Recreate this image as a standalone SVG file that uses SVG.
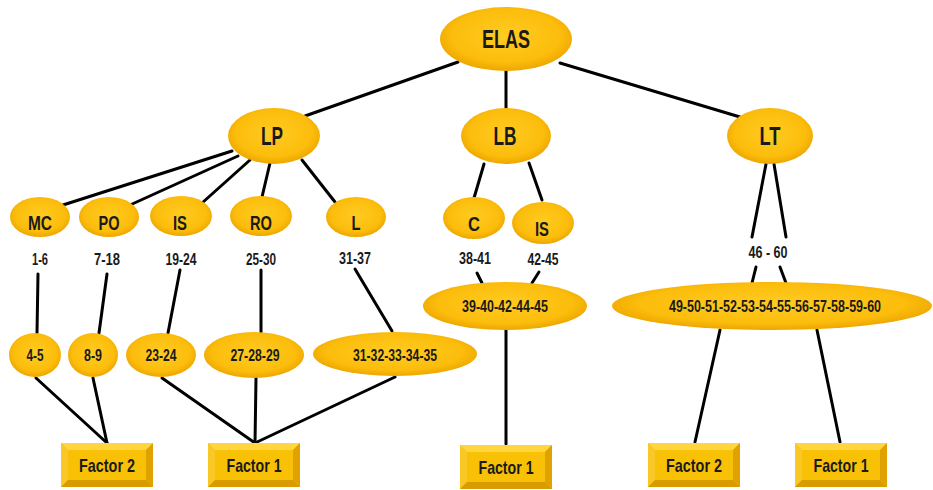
<svg xmlns="http://www.w3.org/2000/svg" width="933" height="490" viewBox="0 0 933 490">
<style>
.n{fill:url(#g);}
.t{font-family:"Liberation Sans",Arial,sans-serif;font-weight:bold;fill:#1a1a1a;text-anchor:middle;}
.big{font-size:25px;}
.mid{font-size:20px;}
.sm{font-size:16px;}
.f{font-size:19px;}
.c line{stroke:#000;stroke-width:3;stroke-linecap:round;}
</style>
<defs>
<radialGradient id="g" cx="50%" cy="45%" r="55%">
<stop offset="0" stop-color="#FFCB22"/>
<stop offset="0.75" stop-color="#FCBD0C"/>
<stop offset="1" stop-color="#EDA600"/>
</radialGradient>
<symbol id="btn" viewBox="0 0 92 44" width="92" height="44">
<rect x="0" y="0" width="92" height="44" fill="#F6C000"/>
<polygon points="0,0 92,0 85,7 7,7" fill="#FFD640"/>
<polygon points="0,0 7,7 7,37 0,44" fill="#F9C826"/>
<polygon points="92,0 92,44 85,37 85,7" fill="#DFA200"/>
<polygon points="0,44 92,44 85,37 7,37" fill="#D89B00"/>
<rect x="7" y="7" width="78" height="30" fill="#F8C106"/>
</symbol>
</defs>
<rect width="933" height="490" fill="#fff"/>
<g class="c" id="connectors">
<line x1="458" y1="62" x2="305" y2="116"/>
<line x1="506" y1="71" x2="506" y2="108"/>
<line x1="560" y1="63" x2="740" y2="117"/>
<line x1="232" y1="151" x2="63" y2="205"/>
<line x1="238" y1="156" x2="130" y2="205"/>
<line x1="250" y1="160" x2="202" y2="203"/>
<line x1="270" y1="163" x2="262" y2="197"/>
<line x1="302" y1="160" x2="335" y2="202"/>
<line x1="484" y1="164" x2="474" y2="198"/>
<line x1="529" y1="163" x2="542" y2="200"/>
<line x1="766" y1="164" x2="752" y2="237"/>
<line x1="774" y1="164" x2="786" y2="237"/>
<line x1="756" y1="267" x2="752" y2="283"/>
<line x1="780" y1="267" x2="786" y2="283"/>
<line x1="477" y1="273" x2="482" y2="283"/>
<line x1="539" y1="272" x2="532" y2="283"/>
<line x1="38" y1="274" x2="37" y2="333"/>
<line x1="107" y1="274" x2="99" y2="333"/>
<line x1="180" y1="270" x2="168" y2="333"/>
<line x1="261" y1="270" x2="261" y2="332"/>
<line x1="355" y1="269" x2="392" y2="331"/>
<line x1="36" y1="378" x2="107" y2="443"/>
<line x1="93" y1="378" x2="107" y2="443"/>
<line x1="162" y1="378" x2="255" y2="443"/>
<line x1="256" y1="378" x2="255" y2="443"/>
<line x1="395" y1="377" x2="255" y2="443"/>
<line x1="506" y1="330" x2="506" y2="444"/>
<line x1="720" y1="330" x2="695" y2="442"/>
<line x1="817" y1="330" x2="840" y2="442"/>
</g>
<g id="ELAS"><ellipse class="n" cx="506" cy="39" rx="66" ry="32"/><text class="t big" x="506" y="48" textLength="48" lengthAdjust="spacingAndGlyphs">ELAS</text></g>
<g id="LP"><ellipse class="n" cx="274" cy="136" rx="46" ry="28"/><text class="t big" x="272" y="145" textLength="22" lengthAdjust="spacingAndGlyphs">LP</text></g>
<g id="LB"><ellipse class="n" cx="506" cy="136" rx="45" ry="28"/><text class="t big" x="505" y="145" textLength="23" lengthAdjust="spacingAndGlyphs">LB</text></g>
<g id="LT"><ellipse class="n" cx="770" cy="136" rx="43" ry="28"/><text class="t big" x="770" y="145" textLength="21" lengthAdjust="spacingAndGlyphs">LT</text></g>
<g id="MC"><ellipse class="n" cx="40" cy="217" rx="30" ry="20"/><text class="t mid" x="40" y="230" textLength="24" lengthAdjust="spacingAndGlyphs">MC</text><text class="t sm" x="40" y="265" textLength="16" lengthAdjust="spacingAndGlyphs">1-6</text></g>
<g id="PO"><ellipse class="n" cx="109" cy="217" rx="30" ry="20"/><text class="t mid" x="109" y="230" textLength="21" lengthAdjust="spacingAndGlyphs">PO</text><text class="t sm" x="107" y="265" textLength="26" lengthAdjust="spacingAndGlyphs">7-18</text></g>
<g id="IS1"><ellipse class="n" cx="181" cy="216" rx="31" ry="20"/><text class="t mid" x="180" y="230" textLength="14" lengthAdjust="spacingAndGlyphs">IS</text><text class="t sm" x="181" y="265" textLength="31" lengthAdjust="spacingAndGlyphs">19-24</text></g>
<g id="RO"><ellipse class="n" cx="261" cy="216" rx="31" ry="20"/><text class="t mid" x="261" y="230" textLength="22" lengthAdjust="spacingAndGlyphs">RO</text><text class="t sm" x="261" y="265" textLength="30" lengthAdjust="spacingAndGlyphs">25-30</text></g>
<g id="L"><ellipse class="n" cx="356" cy="217" rx="30" ry="20"/><text class="t mid" x="356" y="230" textLength="9" lengthAdjust="spacingAndGlyphs">L</text><text class="t sm" x="355" y="264" textLength="32" lengthAdjust="spacingAndGlyphs">31-37</text></g>
<g id="C"><ellipse class="n" cx="474" cy="218" rx="31" ry="21"/><text class="t mid" x="474" y="231" textLength="12" lengthAdjust="spacingAndGlyphs">C</text><text class="t sm" x="475" y="264" textLength="32" lengthAdjust="spacingAndGlyphs">38-41</text></g>
<g id="IS2"><ellipse class="n" cx="543" cy="223" rx="31" ry="21"/><text class="t mid" x="542" y="236" textLength="14" lengthAdjust="spacingAndGlyphs">IS</text><text class="t sm" x="543" y="265" textLength="31" lengthAdjust="spacingAndGlyphs">42-45</text></g>
<g id="LTrange"><text class="t sm" x="768" y="258" textLength="39" lengthAdjust="spacingAndGlyphs">46 - 60</text></g>
<g id="n45"><ellipse class="n" cx="35" cy="355" rx="26" ry="22"/><text class="t sm" x="35" y="361" textLength="17" lengthAdjust="spacingAndGlyphs">4-5</text></g>
<g id="n89"><ellipse class="n" cx="93" cy="355" rx="25" ry="22"/><text class="t sm" x="93" y="361" textLength="18" lengthAdjust="spacingAndGlyphs">8-9</text></g>
<g id="n2324"><ellipse class="n" cx="161" cy="355" rx="35" ry="22"/><text class="t sm" x="161" y="361" textLength="31" lengthAdjust="spacingAndGlyphs">23-24</text></g>
<g id="n272829"><ellipse class="n" cx="254" cy="355" rx="50" ry="23"/><text class="t sm" x="255" y="361" textLength="49" lengthAdjust="spacingAndGlyphs">27-28-29</text></g>
<g id="n3135"><ellipse class="n" cx="395" cy="354" rx="82" ry="22"/><text class="t sm" x="395" y="361" textLength="84" lengthAdjust="spacingAndGlyphs">31-32-33-34-35</text></g>
<g id="n3945"><ellipse class="n" cx="505" cy="306" rx="82" ry="24"/><text class="t sm" x="505" y="312" textLength="86" lengthAdjust="spacingAndGlyphs">39-40-42-44-45</text></g>
<g id="n4960"><ellipse class="n" cx="772" cy="306" rx="160" ry="24"/><text class="t sm" x="775" y="312" textLength="212" lengthAdjust="spacingAndGlyphs">49-50-51-52-53-54-55-56-57-58-59-60</text></g>
<g id="F2a"><use href="#btn" x="61" y="443"/><text class="t f" x="107" y="472" textLength="56" lengthAdjust="spacingAndGlyphs">Factor 2</text></g>
<g id="F1a"><use href="#btn" x="208" y="443"/><text class="t f" x="254" y="472" textLength="55" lengthAdjust="spacingAndGlyphs">Factor 1</text></g>
<g id="F1b"><use href="#btn" x="460" y="445"/><text class="t f" x="506" y="474" textLength="55" lengthAdjust="spacingAndGlyphs">Factor 1</text></g>
<g id="F2b"><use href="#btn" x="648" y="443"/><text class="t f" x="694" y="472" textLength="56" lengthAdjust="spacingAndGlyphs">Factor 2</text></g>
<g id="F1c"><use href="#btn" x="795" y="443"/><text class="t f" x="841" y="472" textLength="55" lengthAdjust="spacingAndGlyphs">Factor 1</text></g>
</svg>
